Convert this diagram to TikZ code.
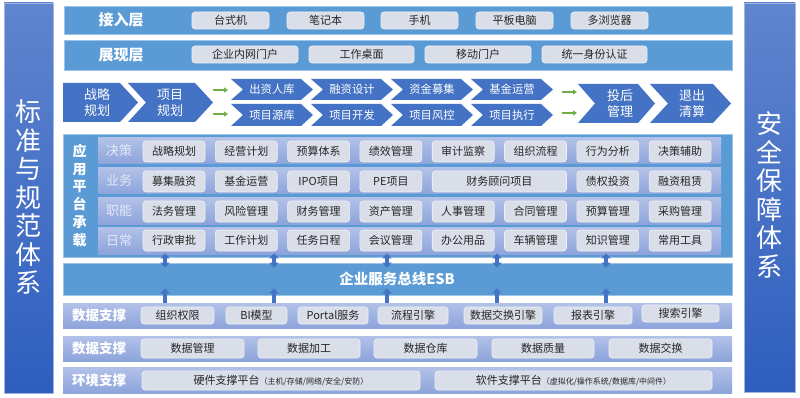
\documentclass[tikz,border=0pt]{standalone}
\usepackage{fontspec}
\setmainfont{Noto Sans CJK SC}
\usetikzlibrary{arrows.meta}
\definecolor{rowblue}{HTML}{5B9BD5}
\definecolor{rowedge}{HTML}{9DC3E6}
\definecolor{chev}{HTML}{4472C4}
\definecolor{cellfill}{HTML}{D9DEE9}
\definecolor{celledge}{HTML}{EEF1F6}
\definecolor{lavtop}{HTML}{B2C1E8}
\definecolor{lavbot}{HTML}{8DA4DB}
\definecolor{sidetop}{HTML}{6085CE}
\definecolor{sidebot}{HTML}{2E5EBE}
\definecolor{grn}{HTML}{70AD47}
\definecolor{lbl}{HTML}{E2E8F7}
\tikzset{
 cellbox/.style={draw=celledge, line width=0.6pt, fill=cellfill, rounded corners=3pt, inner sep=0pt, font=\fontsize{11}{13}\selectfont, text=black!85},
 band/.style={draw=rowedge, line width=0.6pt, fill=rowblue, inner sep=0pt},
 lav/.style={top color=lavtop, bottom color=lavbot, draw=none, inner sep=0pt},
 side/.style={top color=sidetop, bottom color=sidebot, draw=sidetop!60!white, line width=0.6pt, inner sep=0pt},
 sidetext/.style={text=white, align=center, font=\fontsize{26}{28.5}\selectfont, inner sep=0pt},
 chevshape/.style={fill=chev, draw=none},
 chevtext/.style={text=white, align=center, inner sep=0pt, font=\chevfont},
 dblarrow/.style={draw=chev, line width=3.5pt, {Triangle[width=9pt,length=5pt]}-{Triangle[width=9pt,length=5pt]}},
 uparrow/.style={draw=chev, line width=3.5pt, -{Triangle[width=9pt,length=5pt]}},
 garrow/.style={draw=grn, line width=1.2pt, -{Triangle[width=5pt,length=4pt]}},
 bandlabel/.style={text=white, font=\fontsize{15}{17}\selectfont\bfseries, inner sep=0pt},
 datalabel/.style={text=white, font=\fontsize{13.5}{15}\selectfont\bfseries, inner sep=0pt},
 rowlbl/.style={text=lbl, font=\fontsize{13}{15}\selectfont, inner sep=0pt},
}
\newcommand\mkrect[6]{%
 \pgfmathsetmacro\zzw{#5-#3}\pgfmathsetmacro\zzh{#6-#4}%
 \pgfmathsetmacro\zzx{(#3+#5)/2}\pgfmathsetmacro\zzy{(#4+#6)/2}%
 \node[#2,minimum width=\zzw pt,minimum height=\zzh pt] (#1) at (\zzx,\zzy) {};}
\newcommand\mkbox[6]{%
 \pgfmathsetmacro\zzw{#4-#2}\pgfmathsetmacro\zzh{#5-#3}%
 \pgfmathsetmacro\zzx{(#2+#4)/2}\pgfmathsetmacro\zzy{(#3+#5)/2}%
 \node[cellbox,minimum width=\zzw pt,minimum height=\zzh pt] (#1) at (\zzx,\zzy) {#6};}
\newcommand\mkchev[9]{%
 \pgfmathsetmacro\zza{#2+#5}\pgfmathsetmacro\zzb{#2+#5+#6}%
 \pgfmathsetmacro\zzm{(#3+#4)/2}\pgfmathsetmacro\zzn{#2+#7}%
 \fill[chevshape] (#2,#3) -- (\zza,#3) -- (\zzb,\zzm) -- (\zza,#4) -- (#2,#4) -- (\zzn,\zzm) -- cycle;
 \node[chevtext] (#1) at (#8,\zzm) {#9};}
\def\chevfont{\fontsize{13}{16}\selectfont}
\begin{document}
\begin{tikzpicture}[x=1pt,y=-1pt]
\fill[white] (0,0) rectangle (800,398);
\useasboundingbox (0,0) rectangle (800,398);
% side panels
\mkrect{leftpanel}{side}{4}{3}{53}{393}
\node[sidetext] (lefttxt) at (28.5,197) {标\\准\\与\\规\\范\\体\\系};
\mkrect{rightpanel}{side}{744}{3}{795}{392}
\node[sidetext] (righttxt) at (769.5,195) {安\\全\\保\\障\\体\\系};
% access layer
\mkrect{access}{band}{64}{6}{732}{34}
\node[bandlabel] (accesslbl) at (121,20) {接入层};
\mkbox{a1}{192}{12}{269}{29}{台式机}
\mkbox{a2}{287}{12}{364}{29}{笔记本}
\mkbox{a3}{381}{12}{458}{29}{手机}
\mkbox{a4}{476}{12}{553}{29}{平板电脑}
\mkbox{a5}{571}{12}{648}{29}{多浏览器}
% presentation layer
\mkrect{present}{band}{64}{40}{732}{70}
\node[bandlabel] (presentlbl) at (121,55) {展现层};
\mkbox{p1}{192}{46}{298}{63}{企业内网门户}
\mkbox{p2}{309}{46}{414}{63}{工作桌面}
\mkbox{p3}{425}{46}{531}{63}{移动门户}
\mkbox{p4}{542}{46}{647}{63}{统一身份认证}
% process chevrons
\def\chevfont{\fontsize{13}{16}\selectfont}
\mkchev{c1}{63}{83}{122}{57}{18}{0}{97}{战略\\规划}
\mkchev{c2}{128}{83}{122}{67}{18}{18}{170}{项目\\规划}
\mkchev{c9}{578}{84}{123}{60}{17}{17}{620}{投后\\管理}
\mkchev{c10}{650}{84}{123}{63}{18}{18}{692}{退出\\清算}
\def\chevfont{\fontsize{11.3}{13}\selectfont}
\mkchev{s1}{231}{79}{100}{70}{12}{12}{272}{出资人库}
\mkchev{s2}{311}{79}{100}{70}{12}{12}{352}{融资设计}
\mkchev{s3}{391}{79}{100}{70}{12}{12}{432}{资金募集}
\mkchev{s4}{471}{79}{100}{70}{12}{12}{512}{基金运营}
\mkchev{t1}{231}{104}{126}{70}{12}{12}{272}{项目源库}
\mkchev{t2}{311}{104}{126}{70}{12}{12}{352}{项目开发}
\mkchev{t3}{391}{104}{126}{70}{12}{12}{432}{项目风控}
\mkchev{t4}{471}{104}{126}{70}{12}{12}{512}{项目执行}
\coordinate (g1s) at (213,90); \coordinate (g1e) at (228,90);
\coordinate (g2s) at (213,114); \coordinate (g2e) at (228,114);
\coordinate (g3s) at (562,92); \coordinate (g3e) at (577,92);
\coordinate (g4s) at (562,113); \coordinate (g4e) at (577,113);
\draw[garrow] (g1s) -- (g1e);
\draw[garrow] (g2s) -- (g2e);
\draw[garrow] (g3s) -- (g3e);
\draw[garrow] (g4s) -- (g4e);
% application platform
\mkrect{app}{band}{63}{134}{732}{257}
\node[bandlabel, align=center, font=\fontsize{14}{17.7}\selectfont\bfseries] (applbl) at (79.5,195.5) {应\\用\\平\\台\\承\\载};
\mkrect{r1}{lav}{98}{138}{721}{164}
\mkrect{r2}{lav}{98}{168}{721}{194}
\mkrect{r3}{lav}{98}{198}{721}{224}
\mkrect{r4}{lav}{98}{227}{721}{254}
\node[rowlbl] (l1) at (119,151) {决策};
\node[rowlbl] (l2) at (119,181) {业务};
\node[rowlbl] (l3) at (119,211) {职能};
\node[rowlbl] (l4) at (119,240.5) {日常};
\foreach \t [count=\i] in {战略规划,经营计划,预算体系,绩效管理,审计监察,组织流程,行为分析,决策辅助}{
 \pgfmathsetmacro\xa{143+(\i-1)*72.3}\pgfmathsetmacro\xb{\xa+62}
 \mkbox{d\i}{\xa}{141}{\xb}{162}{\t}}
\mkbox{b1}{143}{171}{205}{192}{募集融资}
\mkbox{b2}{215.3}{171}{277.3}{192}{基金运营}
\mkbox{b3}{287.6}{171}{349.6}{192}{IPO项目}
\mkbox{b4}{359.9}{171}{421.9}{192}{PE项目}
\mkbox{b5}{432.2}{171}{566.5}{192}{财务顾问项目}
\mkbox{b7}{576.8}{171}{638.8}{192}{债权投资}
\mkbox{b8}{649.1}{171}{711.1}{192}{融资租赁}
\foreach \t [count=\i] in {法务管理,风险管理,财务管理,资产管理,人事管理,合同管理,预算管理,采购管理}{
 \pgfmathsetmacro\xa{143+(\i-1)*72.3}\pgfmathsetmacro\xb{\xa+62}
 \mkbox{f\i}{\xa}{201}{\xb}{222}{\t}}
\foreach \t [count=\i] in {行政审批,工作计划,任务日程,会议管理,办公用品,车辆管理,知识管理,常用工具}{
 \pgfmathsetmacro\xa{143+(\i-1)*72.3}\pgfmathsetmacro\xb{\xa+62}
 \mkbox{e\i}{\xa}{230}{\xb}{251}{\t}}
% ESB
\mkrect{esb}{band}{63}{263}{732}{295}
\node[bandlabel, font=\fontsize{14.5}{16}\selectfont\bfseries] (esblbl) at (397,279) {企业服务总线ESB};
% data rows
\mkrect{data1}{lav}{63}{303}{732}{328}
\node[datalabel] (dl1) at (99,315.5) {数据支撑};
\mkbox{m1}{141}{307}{214}{324}{组织权限}
\mkbox{m2}{226}{307}{287}{324}{BI模型}
\mkbox{m3}{298}{307}{368}{324}{Portal服务}
\mkbox{m4}{378}{307}{448}{324}{流程引擎}
\mkbox{m5}{464}{307}{542}{324}{数据交换引擎}
\mkbox{m6}{554}{307}{632}{324}{报表引擎}
\mkbox{m7}{642}{305}{719}{322}{搜索引擎}
\mkrect{data2}{lav}{63}{336}{732}{361}
\node[datalabel] (dl2) at (99,348.5) {数据支撑};
\mkbox{n1}{141}{339}{244}{358}{数据管理}
\mkbox{n2}{258}{339}{360}{358}{数据加工}
\mkbox{n3}{374}{339}{477}{358}{数据仓库}
\mkbox{n4}{492}{339}{594}{358}{数据质量}
\mkbox{n5}{609}{339}{712}{358}{数据交换}
\mkrect{env}{lav}{63}{367}{732}{393}
\node[datalabel] (dl3) at (99,380) {环境支撑};
\mkbox{h1}{142}{371}{420}{390}{硬件支撑平台{\fontsize{8}{10}\selectfont（主机/存储/网络/安全/安防）}}
\mkbox{h2}{435}{371}{712}{390}{软件支撑平台{\fontsize{8}{10}\selectfont（虚拟化/操作系统/数据库/中间件）}}
% arrows
\foreach \ax in {165,274,387,497,606}{
 \draw[dblarrow, shorten <=-4pt, shorten >=-5pt] (app.south -| \ax,0) -- (esb.north -| \ax,0);
 \draw[uparrow, shorten >=-7pt] (data1.north -| \ax,0) -- (esb.south -| \ax,0);
}
\end{tikzpicture}
\end{document}
